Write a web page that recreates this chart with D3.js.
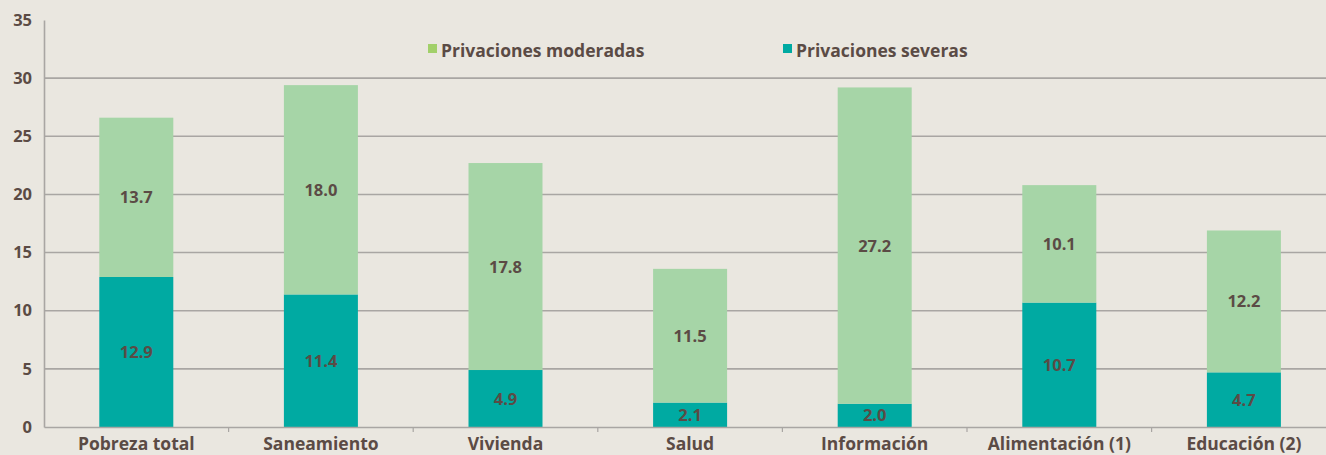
<!DOCTYPE html>
<html>
<head>
<meta charset="utf-8">
<script src="https://cdn.jsdelivr.net/npm/d3@7"></script>
<style>
  html, body { margin: 0; padding: 0; background: #EAE7E0; }
  svg { display: block; font-family: "Open Sans", "Noto Sans", sans-serif; }
</style>
</head>
<body>
<div id="chart"></div>
<script>
const categories = ["Pobreza total", "Saneamiento", "Vivienda", "Salud", "Información", "Alimentación (1)", "Educación (2)"];
const severas = [12.9, 11.4, 4.9, 2.1, 2.0, 10.7, 4.7];
const moderadas = [13.7, 18.0, 17.8, 11.5, 27.2, 10.1, 12.2];
const yTicks = [0, 5, 10, 15, 20, 25, 30, 35];
const seriesNames = ["Privaciones moderadas", "Privaciones severas"];

const W = 1326, H = 455;
const margin = {top: 20, right: 0, bottom: 28, left: 44};
const textColor = "#5B4B45";
const gridColor = "#A9A6A3";
const colSevere = "#00AAA2";
const colModerate = "#A6D5A7";
const legendModerate = "#A2D06A";

const svg = d3.select("#chart").append("svg").attr("width", W).attr("height", H);

// the last band runs a little past the right edge of the picture
const x = d3.scaleBand().domain(categories).range([margin.left, margin.left + 7 * 184.6]).paddingInner(0).paddingOuter(0);
const y = d3.scaleLinear().domain([0, 35]).range([H - margin.bottom, margin.top]);
const barW = 74;

// gridlines
svg.append("g").selectAll("line").data(yTicks.filter(t => t > 0 && t < 35)).join("line")
  .attr("x1", margin.left).attr("x2", W - margin.right)
  .attr("y1", d => y(d)).attr("y2", d => y(d))
  .attr("stroke", gridColor).attr("stroke-width", 1.6);

// y axis
const yAxis = svg.append("g").attr("transform", `translate(${margin.left},0)`)
  .call(d3.axisLeft(y).tickValues(yTicks).tickSize(0).tickPadding(12));
yAxis.select(".domain").attr("stroke", gridColor).attr("stroke-width", 1.6);
yAxis.selectAll("text").attr("fill", textColor).attr("font-size", 16.5).attr("font-weight", 700)
  .attr("font-family", "'Open Sans', sans-serif");

const stack = categories.map((c, i) => ({cat: c, sev: severas[i], mod: moderadas[i]}));

// severe bars
svg.append("g").selectAll("rect").data(stack).join("rect")
  .attr("x", d => x(d.cat) + x.bandwidth() / 2 - barW / 2)
  .attr("width", barW)
  .attr("y", d => y(d.sev))
  .attr("height", d => y(0) - y(d.sev))
  .attr("fill", colSevere);

// moderate bars
svg.append("g").selectAll("rect").data(stack).join("rect")
  .attr("x", d => x(d.cat) + x.bandwidth() / 2 - barW / 2)
  .attr("width", barW)
  .attr("y", d => y(d.sev + d.mod))
  .attr("height", d => y(d.sev) - y(d.sev + d.mod))
  .attr("fill", colModerate);

// value labels
const lbl = svg.append("g").attr("fill", textColor).attr("font-size", 16.5).attr("font-weight", 700)
  .attr("text-anchor", "middle");
lbl.selectAll("text.sev").data(stack).join("text").attr("class", "sev")
  .attr("x", d => x(d.cat) + x.bandwidth() / 2)
  .attr("y", d => (y(0) + y(d.sev)) / 2 + 6)
  .text(d => d.sev.toFixed(1));
lbl.selectAll("text.mod").data(stack).join("text").attr("class", "mod")
  .attr("x", d => x(d.cat) + x.bandwidth() / 2)
  .attr("y", d => (y(d.sev) + y(d.sev + d.mod)) / 2 + 6)
  .text(d => d.mod.toFixed(1));

// x axis
const xAxis = svg.append("g").attr("transform", `translate(0,${y(0)})`)
  .call(d3.axisBottom(x).tickSize(0).tickPadding(11));
xAxis.select(".domain").attr("stroke", gridColor).attr("stroke-width", 1.6);
xAxis.selectAll("text").attr("fill", textColor).attr("font-size", 17.5).attr("font-weight", 700)
  .attr("font-family", "'Open Sans', sans-serif");
// separator ticks between categories
xAxis.append("g").selectAll("line").data(categories.slice(1)).join("line")
  .attr("x1", d => x(d)).attr("x2", d => x(d))
  .attr("y1", 0).attr("y2", 5)
  .attr("stroke", gridColor).attr("stroke-width", 1.2);

// legend
const legendX = [428, 783];
const legendCols = [legendModerate, colSevere];
const leg = svg.append("g");
seriesNames.forEach((n, i) => {
  leg.append("rect").attr("x", legendX[i]).attr("y", 44).attr("width", 9).attr("height", 9).attr("fill", legendCols[i]);
  leg.append("text").attr("x", legendX[i] + 13).attr("y", 57)
    .attr("fill", textColor).attr("font-size", 17.5).attr("font-weight", 700)
    .text(n);
});
</script>
</body>
</html>
